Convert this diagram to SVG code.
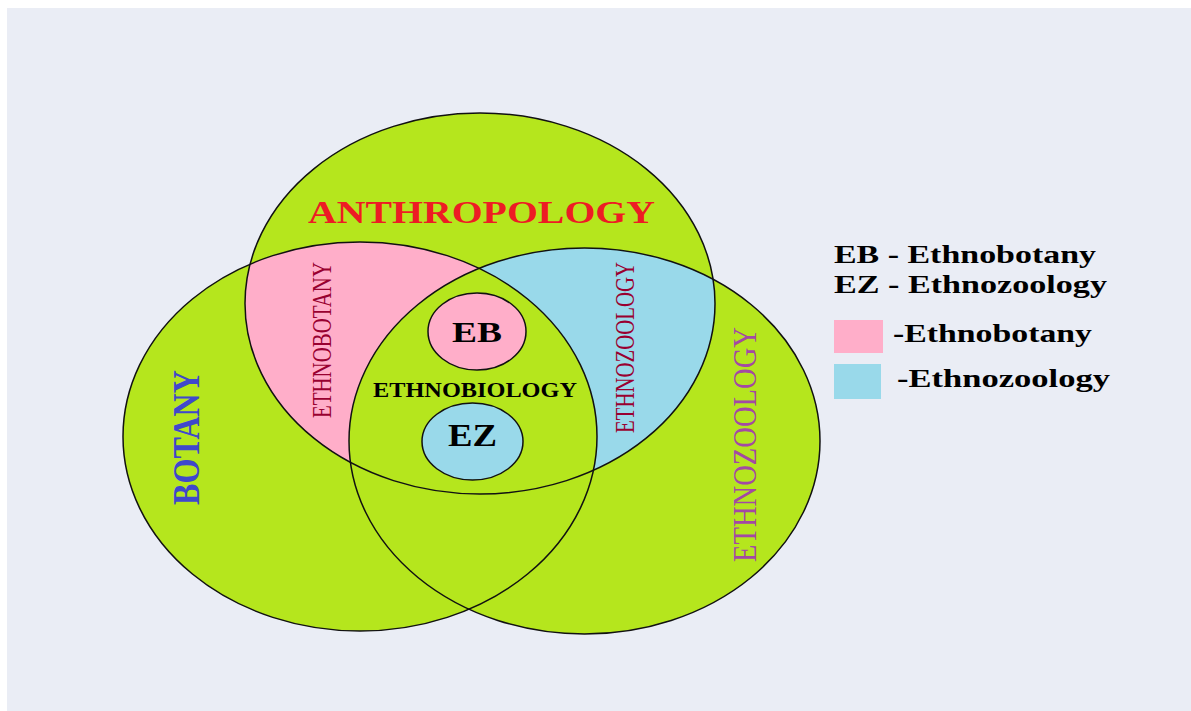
<svg xmlns="http://www.w3.org/2000/svg" width="1191" height="711" viewBox="0 0 1191 711">
<style>
.ser{font-family:"Liberation Serif","Times New Roman",serif;font-weight:bold}
.ol{fill:none;stroke:#111;stroke-width:1.5}
</style>
<defs>
<clipPath id="cTop"><ellipse cx="480" cy="303.5" rx="235" ry="190.5"/></clipPath>
<clipPath id="cLeft"><ellipse cx="360" cy="436.5" rx="237" ry="194.5"/></clipPath>
</defs>
<rect x="0" y="0" width="1191" height="711" fill="#ffffff"/>
<rect x="7" y="8" width="1184" height="703" fill="#eaedf5"/>

<g id="fills">
<ellipse cx="480" cy="303.5" rx="235" ry="190.5" fill="#b5e61d"/>
<ellipse cx="360" cy="436.5" rx="237" ry="194.5" fill="#b5e61d"/>
<ellipse cx="584.5" cy="441" rx="235.5" ry="193" fill="#b5e61d"/>
<g clip-path="url(#cTop)">
<ellipse cx="360" cy="436.5" rx="237" ry="194.5" fill="#ffaec9"/>
<ellipse cx="584.5" cy="441" rx="235.5" ry="193" fill="#99d9ea"/>
<g clip-path="url(#cLeft)">
<ellipse cx="584.5" cy="441" rx="235.5" ry="193" fill="#b5e61d"/>
</g>
</g>
</g>

<g id="anthropology">
<ellipse class="ol" cx="480" cy="303.5" rx="235" ry="190.5"/>
<text class="ser" x="481.5" y="223" font-size="31" fill="#ed1c24" text-anchor="middle" textLength="347" lengthAdjust="spacingAndGlyphs">ANTHROPOLOGY</text>
</g>
<g id="botany">
<ellipse class="ol" cx="360" cy="436.5" rx="237" ry="194.5"/>
<text class="ser" transform="translate(199,437.5) rotate(-90)" font-size="38" font-weight="normal" fill="#3f48cc" text-anchor="middle" textLength="135" lengthAdjust="spacingAndGlyphs" style="font-weight:bold">BOTANY</text>
</g>
<g id="ethnozoology-circle">
<ellipse class="ol" cx="584.5" cy="441" rx="235.5" ry="193"/>
<text class="ser" transform="translate(756,444.5) rotate(-90)" font-size="34" fill="#a349a4" text-anchor="middle" textLength="235" lengthAdjust="spacingAndGlyphs" style="font-weight:normal">ETHNOZOOLOGY</text>
</g>
<g id="ethnobotany-region">
<text class="ser" transform="translate(331,340) rotate(-90)" font-size="27" fill="#990030" text-anchor="middle" textLength="156" lengthAdjust="spacingAndGlyphs" style="font-weight:normal">ETHNOBOTANY</text>
</g>
<g id="ethnozoology-region">
<text class="ser" transform="translate(634,347.5) rotate(-90)" font-size="28" fill="#990030" text-anchor="middle" textLength="171" lengthAdjust="spacingAndGlyphs" style="font-weight:normal">ETHNOZOOLOGY</text>
</g>
<g id="ethnobiology">
<text class="ser" x="475" y="397" font-size="20" fill="#000" text-anchor="middle" textLength="204" lengthAdjust="spacingAndGlyphs">ETHNOBIOLOGY</text>
</g>
<g id="eb">
<ellipse cx="477" cy="331.5" rx="49" ry="38.5" fill="#ffaec9" stroke="#111" stroke-width="1.5"/>
<text class="ser" x="477" y="342" font-size="30" fill="#000" text-anchor="middle" textLength="50" lengthAdjust="spacingAndGlyphs">EB</text>
</g>
<g id="ez">
<ellipse cx="472.5" cy="441.5" rx="50.5" ry="38.5" fill="#99d9ea" stroke="#111" stroke-width="1.5"/>
<text class="ser" x="472.5" y="446" font-size="31" fill="#000" text-anchor="middle" textLength="49" lengthAdjust="spacingAndGlyphs">EZ</text>
</g>
<g id="legend">
<text class="ser" x="834" y="263" font-size="26" fill="#000" textLength="262" lengthAdjust="spacingAndGlyphs">EB - Ethnobotany</text>
<text class="ser" x="834" y="293" font-size="26" fill="#000" textLength="273" lengthAdjust="spacingAndGlyphs">EZ - Ethnozoology</text>
<rect x="834" y="320" width="49" height="33" fill="#ffaec9"/>
<text class="ser" x="893" y="342" font-size="26" fill="#000" textLength="199" lengthAdjust="spacingAndGlyphs">-Ethnobotany</text>
<rect x="834" y="364" width="47" height="35" fill="#99d9ea"/>
<text class="ser" x="897" y="387" font-size="26" fill="#000" textLength="213" lengthAdjust="spacingAndGlyphs">-Ethnozoology</text>
</g>
</svg>
